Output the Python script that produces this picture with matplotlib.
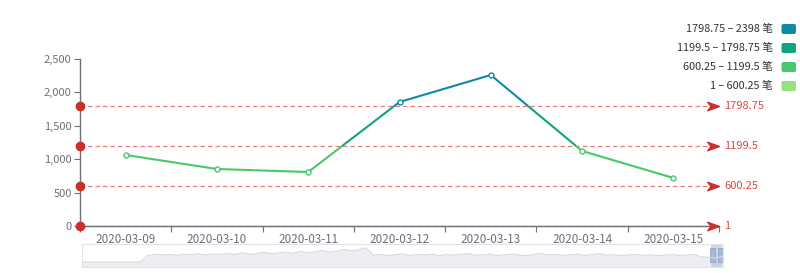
import matplotlib
matplotlib.use("Agg")
import matplotlib.pyplot as plt
from matplotlib.path import Path
from matplotlib.patches import FancyBboxPatch, Rectangle

plt.rcParams['font.family'] = ['Noto Sans CJK SC', 'DejaVu Sans']

# data
dates = ['2020-03-09', '2020-03-10', '2020-03-11', '2020-03-12',
         '2020-03-13', '2020-03-14', '2020-03-15']
values = [1063, 853, 808, 1856, 2260, 1123, 719]

piece_lows = [1, 600.25, 1199.5, 1798.75]
piece_highs = [600.25, 1199.5, 1798.75, 2398]
piece_colors = ['#93e27c', '#48c86b', '#0fa47f', '#0e8ba4']
piece_labels = ['1 – 600.25 笔', '600.25 – 1199.5 笔',
                '1199.5 – 1798.75 笔', '1798.75 – 2398 笔']

mark_values = [1, 600.25, 1199.5, 1798.75]
mark_labels = ['1', '600.25', '1199.5', '1798.75']

# overview series shown in the zoom slider
overview = [
    430, 430, 430, 430, 430, 430, 430, 430, 430,
    1000, 1120, 1060, 1100, 1030, 1120, 1080, 1150, 1070, 1140,
    1100, 1200, 1090, 1250, 1120, 1180, 1300, 1150, 1230, 1320,
    1200, 1380, 1250, 1330, 1450, 1300, 1400, 1550, 1420, 1500,
    1680, 1050, 1100, 1000, 1080, 1150, 1020, 1100, 1060, 1120,
    1000, 1090, 1040, 1110, 1180, 1030, 1060, 1120, 1000, 1070,
    1130, 1050, 1000, 1080, 1190, 1060, 1100, 1030, 1080, 1120,
    1020, 1090, 1150, 1040, 1080, 1000, 1060, 1110, 1030, 1080,
    1000, 1050, 1090, 1020, 1060, 1100, 900, 850, 780, 950]

axis_gray = '#6e7079'
mark_red = '#c9302c'


def piece_color(v):
    for lo, hi, c in zip(piece_lows, piece_highs, piece_colors):
        if lo <= v <= hi:
            return c
    return piece_colors[-1] if v > piece_highs[-1] else piece_colors[0]


fig = plt.figure(figsize=(8, 2.73), dpi=100)
ax = fig.add_axes([0.1, 0.1722, 0.79875, 0.6117])
ax.set_xlim(-0.5, 6.5)
ax.set_ylim(0, 2500)

# mark lines
arrow = Path([(0, 0), (-1, 0.36), (-0.72, 0), (-1, -0.36), (0, 0)],
             [Path.MOVETO, Path.LINETO, Path.LINETO, Path.LINETO, Path.CLOSEPOLY])
for v, lab in zip(mark_values, mark_labels):
    ax.plot([-0.5, 6.45], [v, v], ls=(0, (3.5, 2.5)), lw=0.9,
            color='#e05a5a', alpha=0.8, zorder=2, clip_on=False)
    ax.plot([-0.5], [v], 'o', ms=6, color=mark_red, zorder=5, clip_on=False)
    ax.plot([6.5], [v], marker=arrow, ms=17, color=mark_red, mec=mark_red,
            zorder=5, clip_on=False)
    ax.annotate(lab, (6.5, v), xytext=(4, 0), textcoords='offset points',
                va='center', ha='left', fontsize=8, color='#e0443c',
                annotation_clip=False)

# line split at piece thresholds
xs = list(range(len(values)))
bounds = piece_lows[1:]
for i in range(len(values) - 1):
    x0, y0, x1, y1 = xs[i], values[i], xs[i + 1], values[i + 1]
    cuts = [0.0]
    for b in bounds:
        if (y0 - b) * (y1 - b) < 0:
            cuts.append((b - y0) / (y1 - y0))
    cuts.append(1.0)
    cuts.sort()
    for a, b in zip(cuts[:-1], cuts[1:]):
        ya, yb = y0 + a * (y1 - y0), y0 + b * (y1 - y0)
        xa, xb = x0 + a * (x1 - x0), x0 + b * (x1 - x0)
        ax.plot([xa, xb], [ya, yb], color=piece_color((ya + yb) / 2),
                lw=1.5, solid_capstyle='butt', zorder=3)
for x, v in zip(xs, values):
    ax.plot([x], [v], 'o', ms=3.6, mfc='white', mec=piece_color(v),
            mew=1, zorder=4)

# axes styling
for s in ['top', 'right']:
    ax.spines[s].set_visible(False)
for s in ['left', 'bottom']:
    ax.spines[s].set_color(axis_gray)
    ax.spines[s].set_linewidth(1)
ax.set_yticks([0, 500, 1000, 1500, 2000, 2500])
ax.set_yticklabels(['0', '500', '1,000', '1,500', '2,000', '2,500'])
ax.tick_params(axis='y', colors=axis_gray, labelsize=8, length=4, pad=2,
               labelcolor='#6e7079')
ax.set_xticks([i - 0.5 for i in range(len(dates) + 1)])
ax.set_xticklabels([])
ax.set_xticks(xs, minor=True)
ax.set_xticklabels(dates, minor=True)
ax.tick_params(axis='x', which='major', colors=axis_gray, length=4)
ax.tick_params(axis='x', which='minor', length=0, labelsize=8.4, pad=5,
               labelcolor='#6e7079')

# visual map legend
row_y = [86, 67, 48, 29]
for yy, lab, c in zip(row_y, piece_labels, piece_colors):
    fig.text(7.73, (273 - yy) / 100, lab, transform=fig.dpi_scale_trans,
             ha='right', va='center', fontsize=7.8, color='#333333')
    fig.patches.append(FancyBboxPatch((7.815, (273 - yy - 5) / 100), 0.145, 0.10,
                                      boxstyle='round,pad=0,rounding_size=0.02',
                                      transform=fig.dpi_scale_trans,
                                      facecolor=c, edgecolor='none'))

# data zoom slider
zax = fig.add_axes([82 / 800, 6 / 273, 641 / 800, 23 / 273])
ox = list(range(len(overview)))
zax.fill_between(ox, overview, color='#eceef1', lw=0)
zax.plot(ox, overview, color='#d6d9de', lw=0.8)
zax.set_xlim(0, len(overview) - 1)
zax.set_ylim(0, 2020)
zax.set_xticks([])
zax.set_yticks([])
for s in zax.spines.values():
    s.set_color('#e0e4ea')
    s.set_linewidth(0.8)
zax.add_patch(Rectangle((0.982, 0), 0.016, 1, transform=zax.transAxes,
                        facecolor='#a7b8d2', alpha=0.55, lw=0))
for hx in [0.979, 0.992]:
    zax.add_patch(Rectangle((hx, 0.2), 0.008, 0.62, transform=zax.transAxes,
                            facecolor='#a9bad4', edgecolor='#8fa3c4', lw=0.6))

fig.savefig('out.png', dpi=100)
